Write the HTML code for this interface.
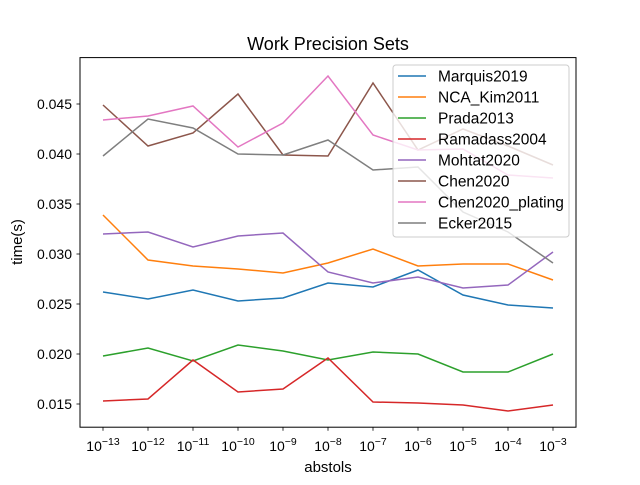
<!DOCTYPE html>
<html><head><meta charset="utf-8"><style>
body{margin:0;background:#fff;}
svg text{font-family:"Liberation Sans","DejaVu Sans",sans-serif;}
</style></head><body>
<svg id="chart" width="640" height="480" xmlns="http://www.w3.org/2000/svg">
<rect width="640" height="480" fill="#fff"/>
<g id="grid"></g>
<g id="series"></g>
<rect x="80" y="57.6" width="496" height="369.6" fill="none" stroke="#000" stroke-width="1"/>
<text x="328" y="50" font-size="18" text-anchor="middle">Work Precision Sets</text>
<text x="328" y="472" font-size="15" text-anchor="middle">abstols</text>
<text x="0" y="0" font-size="15" text-anchor="middle" transform="translate(22,242) rotate(-90)">time(s)</text>
<g id="legend"></g>
</svg>
<script>
const exponents=[-13,-12,-11,-10,-9,-8,-7,-6,-5,-4,-3];
const yTicks=[0.015,0.020,0.025,0.030,0.035,0.040,0.045];
const seriesNames=["Marquis2019","NCA_Kim2011","Prada2013","Ramadass2004","Mohtat2020","Chen2020","Chen2020_plating","Ecker2015"];
const colors=["#1f77b4","#ff7f0e","#2ca02c","#d62728","#9467bd","#8c564b","#e377c2","#7f7f7f"];
const marquis=[0.0262,0.0255,0.0264,0.0253,0.0256,0.0271,0.0267,0.0284,0.0259,0.0249,0.0246];
const ncaKim=[0.0339,0.0294,0.0288,0.0285,0.0281,0.0291,0.0305,0.0288,0.0290,0.0290,0.0274];
const prada=[0.0198,0.0206,0.0193,0.0209,0.0203,0.0194,0.0202,0.0200,0.0182,0.0182,0.0200];
const ramadass=[0.0153,0.0155,0.0194,0.0162,0.0165,0.0196,0.0152,0.0151,0.0149,0.0143,0.0149];
const mohtat=[0.0320,0.0322,0.0307,0.0318,0.0321,0.0282,0.0271,0.0277,0.0266,0.0269,0.0302];
const chen=[0.0449,0.0408,0.0421,0.0460,0.0399,0.0398,0.0471,0.0404,0.0425,0.0408,0.0389];
const chenPlating=[0.0434,0.0438,0.0448,0.0407,0.0431,0.0478,0.0419,0.0404,0.0405,0.0379,0.0376];
const ecker=[0.0398,0.0435,0.0426,0.0400,0.0399,0.0414,0.0384,0.0387,0.0342,0.0322,0.0291];
const allSeries=[marquis,ncaKim,prada,ramadass,mohtat,chen,chenPlating,ecker];

const NS="http://www.w3.org/2000/svg";
const x=i=>103+i*45;
const y=v=>404-(v-0.015)*10000;
function mk(tag,attrs,parent){const e=document.createElementNS(NS,tag);for(const k in attrs)e.setAttribute(k,attrs[k]);parent.appendChild(e);return e;}
const grid=document.getElementById('grid');
exponents.forEach((ex,i)=>{
  const t=mk('line',{x1:x(i),x2:x(i),y1:427.2,y2:430.7,stroke:'#000','stroke-width':0.8},grid);
  
  
  const tx=mk('text',{x:x(i),y:451,'font-size':14,'text-anchor':'middle'},grid);
  
  
  tx.textContent='10';
  const sp=mk('tspan',{dy:-6,'font-size':10.5},tx);sp.textContent='\u2212'+Math.abs(ex);
});
yTicks.forEach(v=>{
  const t=mk('line',{x1:76.5,x2:80,y1:y(v),y2:y(v),stroke:'#000','stroke-width':0.8},grid);
  
  
  const tx=mk('text',{x:72,y:y(v)+5,'font-size':14,'text-anchor':'end'},grid);
  
  
  tx.textContent=v.toFixed(3);
});
const sg=document.getElementById('series');
allSeries.forEach((s,k)=>{
  const p=mk('polyline',{points:s.map((v,i)=>x(i)+','+y(v)).join(' '),fill:'none',stroke:colors[k],'stroke-width':1.5},sg);
  
  
});
const lg=document.getElementById('legend');
const box=mk('rect',{x:393,y:65,width:176,height:172,rx:3,fill:'#fff','fill-opacity':0.8,stroke:'#ccc'},lg);


seriesNames.forEach((n,k)=>{
  const yy=76+k*21;
  const l=mk('line',{x1:398,x2:426,y1:yy,y2:yy,stroke:colors[k],'stroke-width':1.5},lg);
  
  
  const t=mk('text',{x:438,y:yy+5.5,'font-size':15.5},lg);
  
  
  t.textContent=n;
});
</script>
</body></html>
